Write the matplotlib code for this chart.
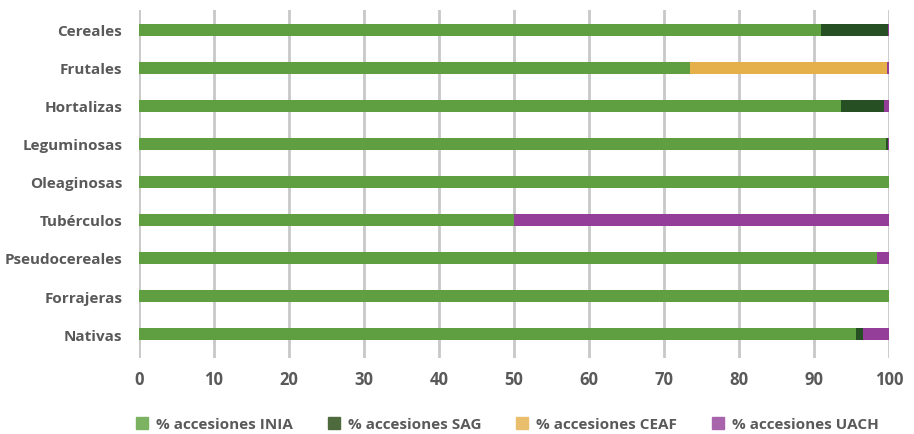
import matplotlib
matplotlib.use("Agg")
import matplotlib.pyplot as plt
from matplotlib.patches import Patch

categories = ["Cereales", "Frutales", "Hortalizas", "Leguminosas", "Oleaginosas",
              "Tubérculos", "Pseudocereales", "Forrajeras", "Nativas"]
inia = [90.9, 73.5, 93.6, 99.6, 100.0, 50.0, 98.4, 100.0, 95.6]
sag  = [8.9, 0.0, 5.7, 0.3, 0.0, 0.0, 0.0, 0.0, 0.9]
ceaf = [0.0, 26.2, 0.0, 0.0, 0.0, 0.0, 0.0, 0.0, 0.0]
uach = [0.2, 0.3, 0.7, 0.1, 0.0, 50.0, 1.6, 0.0, 3.5]
series_names = ["% accesiones INIA", "% accesiones SAG", "% accesiones CEAF", "% accesiones UACH"]
xticks = [0, 10, 20, 30, 40, 50, 60, 70, 80, 90, 100]

colors = ["#5f9f41", "#264f23", "#e5b04a", "#943e99"]
legend_colors = ["#7bb363", "#4e6b3e", "#e9be6d", "#a865ac"]
txt = "#595959"
plt.rcParams['font.family'] = ['Open Sans', 'DejaVu Sans']

fig = plt.figure(figsize=(9.14, 4.35), dpi=100)
ax = fig.add_axes([139/914, 1-359/435, 750/914, 348/435])

y = list(range(len(categories)))
left = [0.0]*len(categories)
for vals, c in zip([inia, sag, ceaf, uach], colors):
    ax.barh(y, vals, left=left, height=0.33, color=c, zorder=3)
    left = [l + v for l, v in zip(left, vals)]

ax.set_xlim(0, 100)
ax.set_ylim(8.63, -0.52)
ax.set_xticks(xticks)
ax.set_yticks(y)
ax.set_yticklabels(categories)
for s in ax.spines.values():
    s.set_visible(False)
ax.grid(axis='x', color='#c8c8c8', linewidth=2, zorder=0)
ax.tick_params(axis='both', length=0, labelsize=11, labelcolor=txt)
ax.tick_params(axis='x', pad=9, labelsize=12)
ax.tick_params(axis='y', pad=12)
for lbl in ax.get_xticklabels() + ax.get_yticklabels():
    lbl.set_fontweight('bold')

handles = [Patch(color=c, label=n) for c, n in zip(legend_colors, series_names)]
fig.legend(handles=handles, loc='center', bbox_to_anchor=(0.555, 1-425/435), ncol=4,
           frameon=False, prop={'weight': 'bold', 'size': 11}, labelcolor=txt,
           handlelength=0.8, handleheight=0.8, handletextpad=0.5, columnspacing=2.3)

fig.savefig("out.png", dpi=100)
